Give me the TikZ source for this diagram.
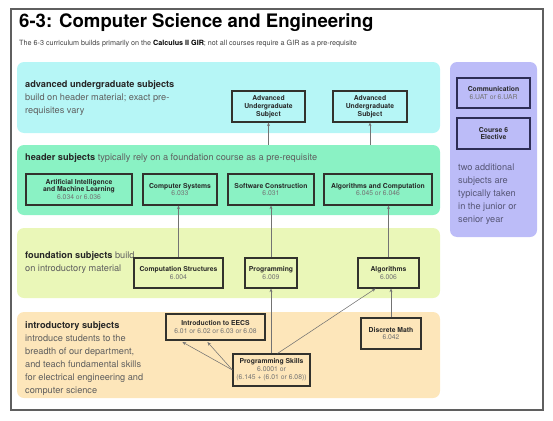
\documentclass[tikz,border=0pt]{standalone}
\usepackage{fontspec}
\setmainfont{TeX Gyre Heros}
\usepackage{tikz}
\usetikzlibrary{arrows.meta}

\definecolor{advcol}{RGB}{182,246,246}
\definecolor{headcol}{RGB}{138,242,196}
\definecolor{foundcol}{RGB}{234,247,184}
\definecolor{introcol}{RGB}{253,230,186}
\definecolor{extracol}{RGB}{188,188,248}
\definecolor{boxline}{RGB}{50,50,45}
\definecolor{navyline}{RGB}{45,45,85}
\definecolor{codegray}{RGB}{115,115,115}
\definecolor{descgray}{RGB}{95,95,95}
\definecolor{framegray}{RGB}{95,95,95}

\newcommand{\code}[1]{\\{\mdseries\color{codegray}#1}}

\begin{document}
\begin{tikzpicture}[x=1pt,y=-1pt,
		band/.style={rounded corners=7pt, inner sep=0pt},
		subj/.style={draw=boxline, line width=1.1pt, align=center, inner sep=1pt,
			font=\fontsize{6.8}{7.9}\selectfont\bfseries, text=black!85},
		desc/.style={anchor=north west, inner sep=0pt, align=left,
			font=\fontsize{9.2}{13}\selectfont, text=descgray},
		conn/.style={draw=black!55, line width=0.55pt, -{Stealth[length=3.6pt,width=3pt]}}]
		\useasboundingbox (0,0) rectangle (553,420);
		\draw[framegray, line width=1.1pt] (11,9) rectangle (543,410);
		% title
		\node[anchor=north west, inner sep=0pt, font=\fontsize{18.6}{21}\selectfont\bfseries] (title) at (19,13) {6-3: Computer Science and Engineering};
		\node[anchor=north west, inner sep=0pt, font=\fontsize{7.2}{8}\selectfont, text=black!75] (subtitle) at (19,39.5) {The 6-3 curriculum builds primarily on the {\color{black}\bfseries Calculus II GIR}; not all courses require a GIR as a pre-requisite};
		% bands
		\node[band, fill=advcol, minimum width=423pt, minimum height=71pt] (adv) at (228.5,97.5) {};
		\node[band, fill=headcol, minimum width=423pt, minimum height=70pt] (head) at (228.5,180) {};
		\node[band, fill=foundcol, minimum width=423pt, minimum height=70pt] (found) at (228.5,263) {};
		\node[band, fill=introcol, minimum width=423pt, minimum height=86pt] (intro) at (228.5,355) {};
		\node[band, fill=extracol, minimum width=87pt, minimum height=175pt] (extra) at (493.5,149.5) {};
		% band texts
		\node[desc] (advtext) at (25,80.5) {{\color{black!85}\bfseries advanced undergraduate subjects}\\build on header material; exact pre-\\requisites vary};
		\node[desc] (headtext) at (25,153.5) {{\color{black!85}\bfseries header subjects} typically rely on a foundation course as a pre-requisite};
		\node[desc] (foundtext) at (25,251.5) {{\color{black!85}\bfseries foundation subjects} build\\on introductory material};
		\node[desc] (introtext) at (25,321.5) {{\color{black!85}\bfseries introductory subjects}\\introduce students to the\\breadth of our department,\\and teach fundamental skills\\for electrical engineering and\\computer science};
		\node[desc, text=navyline!80] (extratext) at (458,163.5) {two additional\\subjects are\\typically taken\\in the junior or\\senior year};
		% advanced
		\node[subj, minimum width=73pt, minimum height=31pt] (adv1) at (268.5,106.5) {Advanced\\Undergraduate\\Subject};
		\node[subj, minimum width=74pt, minimum height=31pt] (adv2) at (370,106.5) {Advanced\\Undergraduate\\Subject};
		% header
		\node[subj, minimum width=106pt, minimum height=31pt] (aiml) at (79,189.5) {Artificial Intelligence\\and Machine Learning\code{6.034 or 6.036}};
		\node[subj, minimum width=74pt, minimum height=31pt] (compsys) at (180,189.5) {Computer Systems\code{6.033}};
		\node[subj, minimum width=86pt, minimum height=31pt] (softcon) at (271,189.5) {Software Construction\code{6.031}};
		\node[subj, minimum width=108pt, minimum height=31pt] (algcomp) at (378,189.5) {Algorithms and Computation\code{6.045 or 6.046}};
		% foundation
		\node[subj, minimum width=89pt, minimum height=30pt] (compstruct) at (178.5,273) {Computation Structures\code{6.004}};
		\node[subj, minimum width=52pt, minimum height=30pt] (prog) at (271,273) {Programming\code{6.009}};
		\node[subj, minimum width=61pt, minimum height=30pt] (alg) at (388.5,273) {Algorithms\code{6.006}};
		% introductory
		\node[subj, minimum width=99pt, minimum height=26pt] (eecs) at (215.5,327) {Introduction to EECS\code{6.01 or 6.02 or 6.03 or 6.08}};
		\node[subj, minimum width=77pt, minimum height=32pt] (progskills) at (271.5,370) {Programming Skills\code{6.0001 or}\code{(6.145 + (6.01 or 6.08))}};
		\node[subj, minimum width=60pt, minimum height=31pt] (discrete) at (391,333.5) {Discrete Math\code{6.042}};
		% other
		\node[subj, draw=navyline, minimum width=73pt, minimum height=30pt] (comm) at (493.5,93) {Communication\code{6.UAT or 6.UAR}};
		\node[subj, draw=navyline, minimum width=73pt, minimum height=31pt] (elective) at (493.5,133.5) {Course 6\\Elective};
		% connectors
		\draw[conn] (adv1.south |- head.north) -- (adv1.south);
		\draw[conn] (adv2.south |- head.north) -- (adv2.south);
		\draw[conn] (compstruct.north) -- (compstruct.north |- compsys.south);
		\draw[conn] (prog.north) -- (softcon.south);
		\draw[conn] (alg.north) -- (alg.north |- algcomp.south);
		\draw[conn] (progskills.north -| prog.south) -- (prog.south);
		\draw[conn] ([xshift=6pt]progskills.north) -- ([xshift=-13pt]alg.south);
		\draw[conn] (discrete.north) -- (discrete.north |- alg.south);
		\draw[conn] (progskills.west) -- ([xshift=17pt,yshift=-1.5pt]eecs.south west);
		\draw[conn] (progskills.west) -- ([xshift=42pt,yshift=-1.5pt]eecs.south west);
\end{tikzpicture}
\end{document}
